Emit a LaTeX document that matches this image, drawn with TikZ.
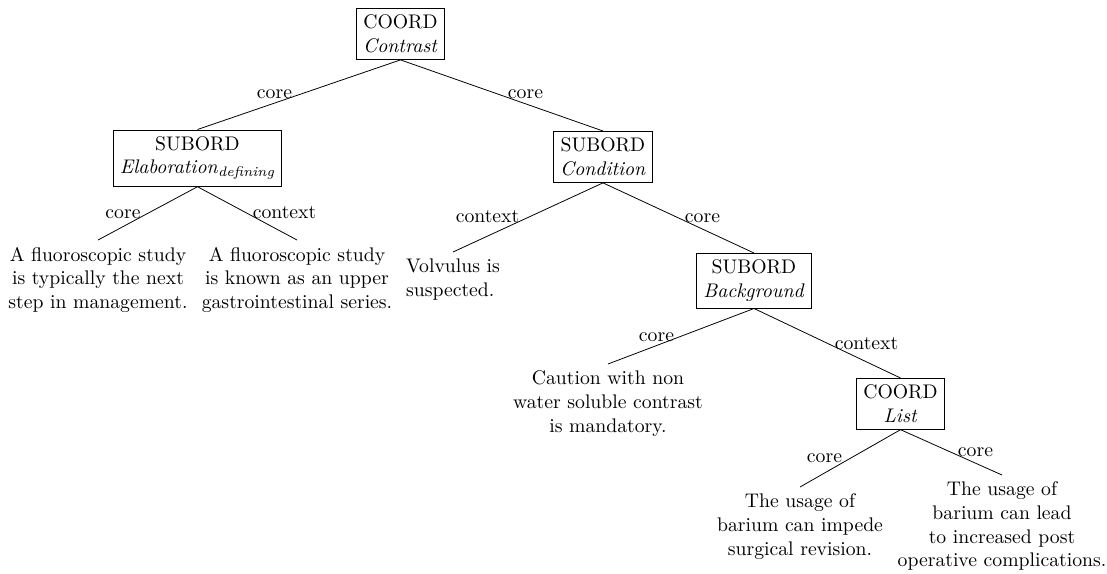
\documentclass[tikz,border=0pt]{standalone}
\usepackage{amsmath}
\usepackage{tikz}
\tikzset{
  relbox/.style={draw, line width=0.4pt, align=center, anchor=north, inner sep=0.3333em},
  leaf/.style={align=center, anchor=north, inner sep=0.3333em},
  lbl/.style={inner sep=0pt, anchor=base},
  conn/.style={draw, line width=0.4pt},
}
\begin{document}
\begin{tikzpicture}[x=0.5076pt, y=-0.5076pt]
\useasboundingbox (0,0) rectangle (1107,573);
% relation boxes
\node[relbox] (root) at (400.5,8) {COORD\\\textit{Contrast}};
\node[relbox] (elab) at (197.5,129.5) {SUBORD\\\textit{Elaboration}$_{\textit{defining}}$};
\node[relbox] (cond) at (603,131) {SUBORD\\\textit{Condition}};
\node[relbox] (back) at (754,253) {SUBORD\\\textit{Background}};
\node[relbox] (list) at (900.5,378) {COORD\\\textit{List}};
% leaves
\node[leaf] (l1) at (98,240) {A fluoroscopic study\\is typically the next\\step in management.};
\node[leaf] (l2) at (297,240) {A fluoroscopic study\\is known as an upper\\gastrointestinal series.};
\node[leaf, align=left] (vol) at (453,252) {Volvulus is\\suspected.};
\node[leaf] (cau) at (608,364) {Caution with non\\water soluble contrast\\is mandatory.};
\node[leaf] (us1) at (800,487) {The usage of\\barium can impede\\surgical revision.};
\node[leaf] (us2) at (1002,475) {The usage of\\barium can lead\\to increased post\\operative complications.};
% connectors
\draw[conn] (root.south) -- (elab.north);
\draw[conn] (root.south) -- (cond.north);
\draw[conn] (elab.south) -- (l1.north);
\draw[conn] (elab.south) -- (l2.north);
\draw[conn] (cond.south) -- (vol.north);
\draw[conn] (cond.south) -- (back.north);
\draw[conn] (back.south) -- (cau.north);
\draw[conn] (back.south) -- (list.north);
\draw[conn] (list.south) -- (us1.north);
\draw[conn] (list.south) -- (us2.north);
% edge labels
\node[lbl] (e1) at (274.5,98) {core};
\node[lbl] (e2) at (525.5,98) {core};
\node[lbl] (e3) at (123,218) {core};
\node[lbl] (e4) at (284.5,218) {context};
\node[lbl] (e5) at (487.5,222) {context};
\node[lbl] (e6) at (702.5,222) {core};
\node[lbl] (e7) at (656.5,341) {core};
\node[lbl] (e8) at (866.5,349) {context};
\node[lbl] (e9) at (824.5,462) {core};
\node[lbl] (e10) at (975.5,456) {core};
\end{tikzpicture}
\end{document}
